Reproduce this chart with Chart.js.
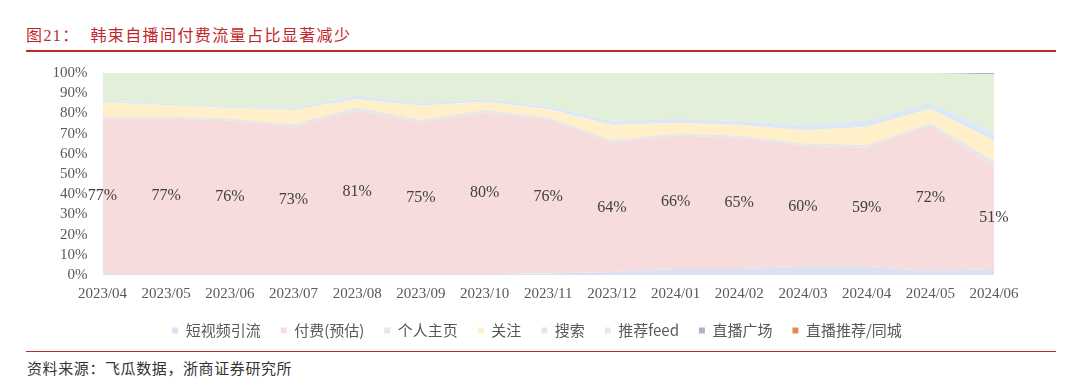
<!DOCTYPE html>
<html>
<head>
<meta charset="utf-8">
<script src="https://cdn.jsdelivr.net/npm/chart.js@4/dist/chart.umd.min.js"></script>
<style>
  body { margin:0; background:#fff; width:1080px; height:386px; overflow:hidden; position:relative; }
  #title { position:absolute; left:26px; top:22px; font:16px "Liberation Serif","Noto Sans CJK SC"; color:#c0272d; white-space:pre; letter-spacing:1.4px; }
  #topline { position:absolute; left:26px; width:1030px; top:50px; height:1.5px; background:#c0272d; }
  #botline { position:absolute; left:26px; width:1030px; top:351px; height:1px; background:#c0272d; }
  #source { position:absolute; left:27px; top:357px; font:15px "Liberation Serif","Noto Sans CJK SC"; color:#333; white-space:pre; letter-spacing:0.6px; }
  canvas { position:absolute; left:0; top:0; }
</style>
</head>
<body>
<div id="title">图21：  韩束自播间付费流量占比显著减少</div>
<div id="topline"></div>
<div id="botline"></div>
<div id="source">资料来源：飞瓜数据，浙商证券研究所</div>
<canvas id="chart" width="1080" height="386"></canvas>
<script>
const months = ["2023/04","2023/05","2023/06","2023/07","2023/08","2023/09","2023/10","2023/11",
                "2023/12","2024/01","2024/02","2024/03","2024/04","2024/05","2024/06"];

// 各渠道占比 (%)
const shortVideo = [0.5,0.5,0.5,0.5,0.5,0.5,0.5,0.8,1.5,3,3,4,4,2,3];
const paid       = [77,77,76,73,81,75,80,76,64,66,65,60,59,72,51];
const homepage   = [1,1,1,1.2,1.5,1.3,1.3,1.3,1.3,1,1,1.2,1.3,1.3,2.5];
const follow     = [7,5.5,5,7,4,7,4,4,7.5,5.3,5.2,6.5,9,7,10];
const search     = [1,0.8,0.8,1,2,1.5,1.5,1.3,2,2,2,2.5,3.3,3,4];
const feed       = [13.5,15.2,16.7,17.3,11,14.7,12.7,16.6,23.7,22.7,23.8,25.8,23.4,14.6,28.9];
const liveSquare = [0,0,0,0,0,0,0,0,0,0,0,0,0,0.1,0.6];
const liveRec    = [0,0,0,0,0,0,0,0,0,0,0,0,0,0,0];

const yTicks = [0,10,20,30,40,50,60,70,80,90,100];

const series = [
  {name:"短视频引流", data:shortVideo, color:"#d9e1f2"},
  {name:"付费(预估)", data:paid, color:"#f6dcdc"},
  {name:"个人主页", data:homepage, color:"#e7e7e7"},
  {name:"关注", data:follow, color:"#fff0c9"},
  {name:"搜索", data:search, color:"#dde8f5"},
  {name:"推荐feed", data:feed, color:"#e2efd9"},
  {name:"直播广场", data:liveSquare, color:"#aab6ca"},
  {name:"直播推荐/同城", data:liveRec, color:"#e58a4c"}
];

const serif = "'Liberation Serif','Noto Sans CJK SC'";

// 付费占比标签, 画在粉色区域中间
const paidLabels = {
  id: "paidLabels",
  afterDatasetsDraw(chart) {
    const ctx = chart.ctx;
    const meta = chart.getDatasetMeta(1);
    const y = chart.scales.y;
    ctx.save();
    ctx.font = "16px " + serif;
    ctx.fillStyle = "#404040";
    ctx.textAlign = "center";
    ctx.textBaseline = "middle";
    meta.data.forEach((pt, i) => {
      const mid = shortVideo[i] + paid[i] / 2;
      ctx.fillText(paid[i] + "%", pt.x, y.getPixelForValue(mid));
    });
    ctx.restore();
  }
};

// 图例整体右移一点, 跟原图居中位置对齐
const legendShift = {
  id: "legendShift",
  afterLayout(chart) {
    chart.legend.left += 30;
  }
};

new Chart(document.getElementById("chart"), {
  type: "line",
  data: {
    labels: months,
    datasets: series.map((s, i) => ({
      label: s.name,
      data: s.data,
      backgroundColor: s.color,
      borderColor: s.color,
      borderWidth: 0,
      pointRadius: 0,
      tension: 0,
      fill: i === 0 ? "origin" : "-1"
    }))
  },
  options: {
    responsive: false,
    animation: false,
    layout: { padding: { left: 50, right: 86, top: 73, bottom: 38 } },
    plugins: {
      tooltip: { enabled: false },
      legend: {
        position: "bottom",
        labels: {
          boxWidth: 6, boxHeight: 6, padding: 20,
          color: "#595959",
          font: { size: 15, family: "'Noto Sans CJK SC'" }
        }
      }
    },
    scales: {
      x: {
        grid: { display: false, drawTicks: false },
        border: { display: false },
        ticks: { color: "#595959", font: { size: 15, family: serif }, padding: 10, maxRotation: 0 },
        afterFit(scale) { scale.height = 28; scale.paddingLeft = 0; scale.paddingRight = 0; }
      },
      y: {
        stacked: true,
        min: 0, max: 100,
        grid: { display: false, drawTicks: false },
        border: { display: false },
        afterBuildTicks(scale) { scale.ticks = yTicks.map(v => ({ value: v })); },
        ticks: { color: "#595959", font: { size: 15, family: serif }, padding: 15, autoSkip: false,
                 callback: v => v + "%" },
        afterFit(scale) { scale.width = 52.5; }
      }
    }
  },
  plugins: [paidLabels, legendShift]
});
</script>
</body>
</html>
